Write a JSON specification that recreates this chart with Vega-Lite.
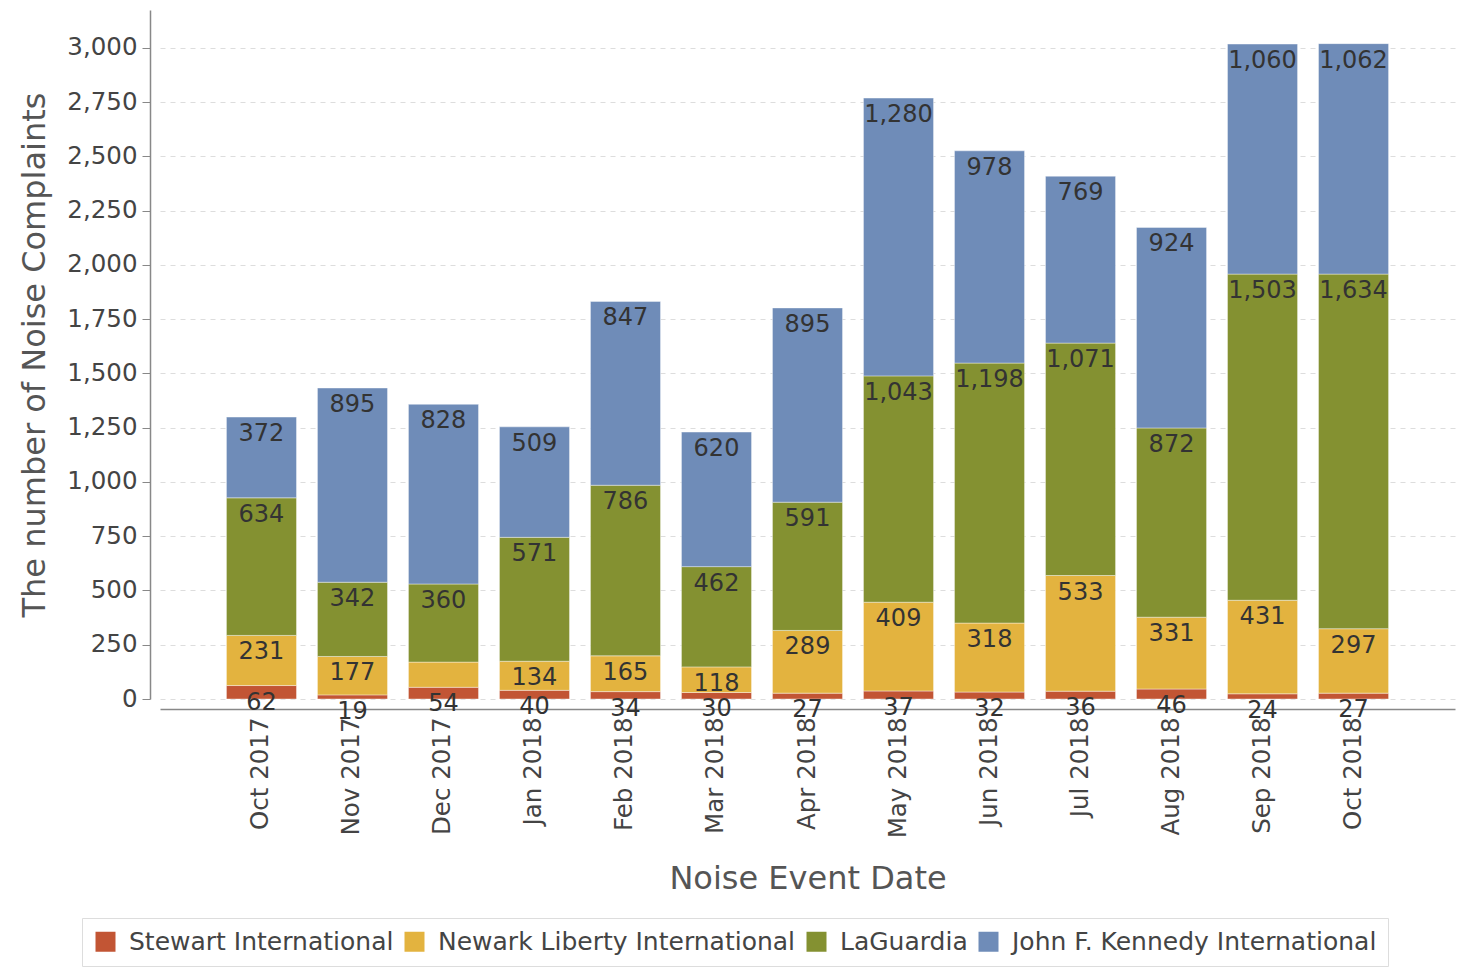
{
  "$schema": "https://vega.github.io/schema/vega-lite/v6.json",
  "width": 1295,
  "height": 689,
  "autosize": "none",
  "padding": {"left": 160, "top": 10, "right": 5, "bottom": 274},
  "config": {"view": {"stroke": null}, "font": "DejaVu Sans"},
  "data": {"values": [
    {"month": "Oct 2017", "airport": "Stewart International", "count": 62},
    {"month": "Oct 2017", "airport": "Newark Liberty International", "count": 231},
    {"month": "Oct 2017", "airport": "LaGuardia", "count": 634},
    {"month": "Oct 2017", "airport": "John F. Kennedy International", "count": 372},
    {"month": "Nov 2017", "airport": "Stewart International", "count": 19},
    {"month": "Nov 2017", "airport": "Newark Liberty International", "count": 177},
    {"month": "Nov 2017", "airport": "LaGuardia", "count": 342},
    {"month": "Nov 2017", "airport": "John F. Kennedy International", "count": 895},
    {"month": "Dec 2017", "airport": "Stewart International", "count": 54},
    {"month": "Dec 2017", "airport": "Newark Liberty International", "count": 116},
    {"month": "Dec 2017", "airport": "LaGuardia", "count": 360},
    {"month": "Dec 2017", "airport": "John F. Kennedy International", "count": 828},
    {"month": "Jan 2018", "airport": "Stewart International", "count": 40},
    {"month": "Jan 2018", "airport": "Newark Liberty International", "count": 134},
    {"month": "Jan 2018", "airport": "LaGuardia", "count": 571},
    {"month": "Jan 2018", "airport": "John F. Kennedy International", "count": 509},
    {"month": "Feb 2018", "airport": "Stewart International", "count": 34},
    {"month": "Feb 2018", "airport": "Newark Liberty International", "count": 165},
    {"month": "Feb 2018", "airport": "LaGuardia", "count": 786},
    {"month": "Feb 2018", "airport": "John F. Kennedy International", "count": 847},
    {"month": "Mar 2018", "airport": "Stewart International", "count": 30},
    {"month": "Mar 2018", "airport": "Newark Liberty International", "count": 118},
    {"month": "Mar 2018", "airport": "LaGuardia", "count": 462},
    {"month": "Mar 2018", "airport": "John F. Kennedy International", "count": 620},
    {"month": "Apr 2018", "airport": "Stewart International", "count": 27},
    {"month": "Apr 2018", "airport": "Newark Liberty International", "count": 289},
    {"month": "Apr 2018", "airport": "LaGuardia", "count": 591},
    {"month": "Apr 2018", "airport": "John F. Kennedy International", "count": 895},
    {"month": "May 2018", "airport": "Stewart International", "count": 37},
    {"month": "May 2018", "airport": "Newark Liberty International", "count": 409},
    {"month": "May 2018", "airport": "LaGuardia", "count": 1043},
    {"month": "May 2018", "airport": "John F. Kennedy International", "count": 1280},
    {"month": "Jun 2018", "airport": "Stewart International", "count": 32},
    {"month": "Jun 2018", "airport": "Newark Liberty International", "count": 318},
    {"month": "Jun 2018", "airport": "LaGuardia", "count": 1198},
    {"month": "Jun 2018", "airport": "John F. Kennedy International", "count": 978},
    {"month": "Jul 2018", "airport": "Stewart International", "count": 36},
    {"month": "Jul 2018", "airport": "Newark Liberty International", "count": 533},
    {"month": "Jul 2018", "airport": "LaGuardia", "count": 1071},
    {"month": "Jul 2018", "airport": "John F. Kennedy International", "count": 769},
    {"month": "Aug 2018", "airport": "Stewart International", "count": 46},
    {"month": "Aug 2018", "airport": "Newark Liberty International", "count": 331},
    {"month": "Aug 2018", "airport": "LaGuardia", "count": 872},
    {"month": "Aug 2018", "airport": "John F. Kennedy International", "count": 924},
    {"month": "Sep 2018", "airport": "Stewart International", "count": 24},
    {"month": "Sep 2018", "airport": "Newark Liberty International", "count": 431},
    {"month": "Sep 2018", "airport": "LaGuardia", "count": 1503},
    {"month": "Sep 2018", "airport": "John F. Kennedy International", "count": 1060},
    {"month": "Oct 2018", "airport": "Stewart International", "count": 27},
    {"month": "Oct 2018", "airport": "Newark Liberty International", "count": 297},
    {"month": "Oct 2018", "airport": "LaGuardia", "count": 1634},
    {"month": "Oct 2018", "airport": "John F. Kennedy International", "count": 1062}
  ]},
  "transform": [
    {"stack": "count", "groupby": ["month"], "sort": [{"field": "airport", "order": "descending"}], "as": ["y0", "y1"]}
  ],
  "encoding": {
    "x": {
      "field": "month",
      "type": "nominal",
      "scale": {
        "domain": ["Oct 2017", "Nov 2017", "Dec 2017", "Jan 2018", "Feb 2018", "Mar 2018", "Apr 2018", "May 2018", "Jun 2018", "Jul 2018", "Aug 2018", "Sep 2018", "Oct 2018"],
        "paddingInner": 0.23,
        "paddingOuter": 0.73
      },
      "axis": {
        "title": "Noise Event Date",
        "offset": 10,
        "labelAngle": -90,
        "labelAlign": "right",
        "labelBaseline": "middle",
        "labelFontSize": 24.5,
        "labelColor": "#444444",
        "labelPadding": 8,
        "ticks": false,
        "tickSize": 0,
        "domainColor": "#888888",
        "domainWidth": 1.5,
        "titleFontSize": 32,
        "titleFontWeight": "normal",
        "titleColor": "#555555",
        "titlePadding": 26
      }
    }
  },
  "layer": [
    {
      "mark": {"type": "bar", "stroke": "#ffffff", "strokeOpacity": 0.4, "strokeWidth": 1},
      "encoding": {
        "y": {
          "field": "y0",
          "type": "quantitative",
          "scale": {"domain": [0, 3175], "nice": false},
          "axis": {
            "title": "The number of Noise Complaints",
            "values": [0, 250, 500, 750, 1000, 1250, 1500, 1750, 2000, 2250, 2500, 2750, 3000],
            "format": ",d",
            "offset": 10,
            "labelFontSize": 24.5,
            "labelColor": "#444444",
            "labelPadding": 5,
            "tickSize": 8,
            "tickColor": "#888888",
            "domainColor": "#888888",
            "domainWidth": 1.5,
            "grid": true,
            "gridDash": [5, 5],
            "gridColor": "#dddddd",
            "titleFontSize": 32,
            "titleFontWeight": "normal",
            "titleColor": "#555555",
            "titlePadding": 15
          }
        },
        "y2": {"field": "y1"},
        "color": {
          "field": "airport",
          "type": "nominal",
          "scale": {
            "domain": ["Stewart International", "Newark Liberty International", "LaGuardia", "John F. Kennedy International"],
            "range": ["#c25534", "#e3b33f", "#849131", "#6f8cb8"]
          },
          "legend": {
            "orient": "none",
            "legendX": -78,
            "legendY": 908,
            "direction": "horizontal",
            "title": null,
            "strokeColor": "#dddddd",
            "padding": 11,
            "symbolType": "square",
            "symbolSize": 400,
            "symbolStrokeWidth": 0,
            "labelFontSize": 25,
            "labelColor": "#444444",
            "labelOffset": 11,
            "columnPadding": 8,
            "labelLimit": 600
          }
        }
      }
    },
    {
      "transform": [{"filter": "!(datum.month == 'Dec 2017' && datum.airport == 'Newark Liberty International')"}],
      "mark": {"type": "text", "baseline": "top", "dy": 5, "fontSize": 24, "color": "#333333"},
      "encoding": {
        "y": {"field": "y1", "type": "quantitative"},
        "text": {"field": "count", "type": "quantitative", "format": ","}
      }
    }
  ]
}
